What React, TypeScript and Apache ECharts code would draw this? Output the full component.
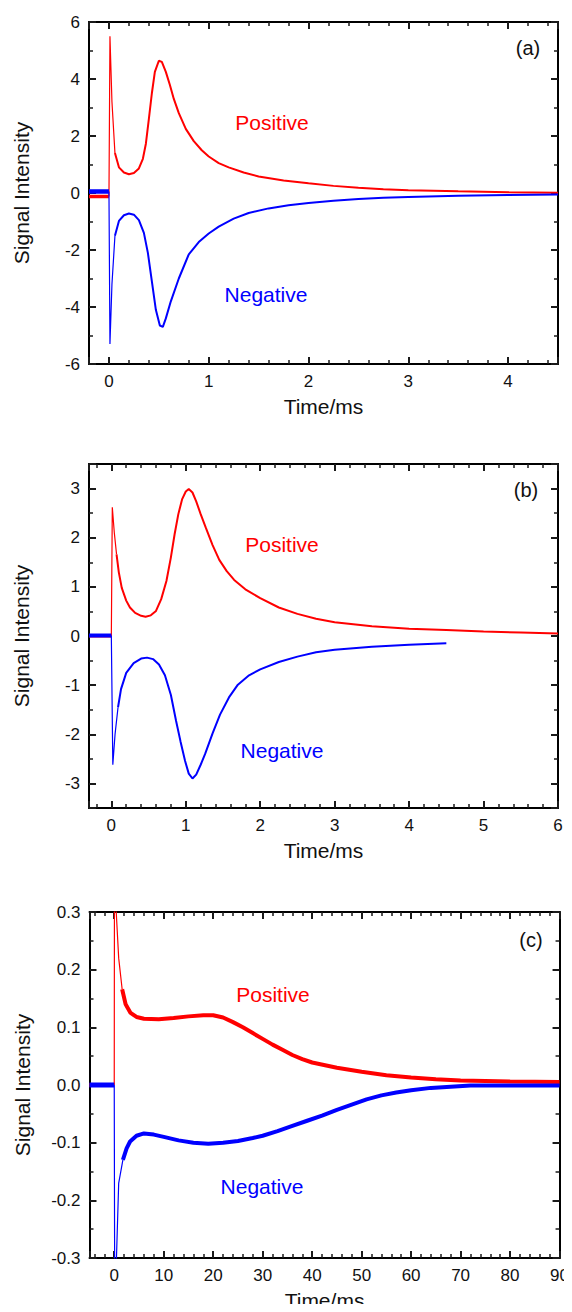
import React, { useEffect, useRef } from "react";
import * as echarts from "echarts";

// ---------- data (time in ms, signal intensity) ----------
// Panel (a)
const redAPre: number[][] = [[-0.2, -0.12], [-0.1, -0.12], [0.0, -0.12]];
const redA: number[][] = [
  [0.01, 5.5], [0.03, 3.2], [0.06, 1.4], [0.1, 0.9], [0.15, 0.72], [0.2, 0.66], [0.25, 0.7],
  [0.3, 0.86], [0.34, 1.2], [0.37, 1.73], [0.4, 2.6], [0.43, 3.5], [0.46, 4.25], [0.5, 4.64],
  [0.53, 4.6], [0.57, 4.25], [0.61, 3.8], [0.65, 3.3], [0.7, 2.8], [0.77, 2.25], [0.85, 1.82],
  [0.93, 1.5], [1.0, 1.28], [1.1, 1.05], [1.2, 0.9], [1.35, 0.72], [1.5, 0.58], [1.75, 0.44],
  [2.0, 0.34], [2.25, 0.25], [2.5, 0.18], [2.75, 0.13], [3.0, 0.1], [3.5, 0.06], [4.0, 0.03], [4.5, 0.01],
];
const blueAPre: number[][] = [[-0.2, 0.05], [-0.1, 0.05], [0.0, 0.05]];
const blueA: number[][] = [
  [0.01, -5.3], [0.03, -3.2], [0.06, -1.5], [0.1, -0.98], [0.15, -0.78], [0.2, -0.72], [0.25, -0.76],
  [0.3, -0.95], [0.35, -1.4], [0.39, -2.1], [0.43, -3.1], [0.47, -4.1], [0.51, -4.65], [0.54, -4.7],
  [0.57, -4.4], [0.62, -3.8], [0.7, -3.0], [0.8, -2.15], [0.9, -1.72], [1.0, -1.42], [1.1, -1.18],
  [1.25, -0.9], [1.4, -0.7], [1.6, -0.54], [1.8, -0.43], [2.0, -0.35], [2.25, -0.27], [2.5, -0.21],
  [2.75, -0.17], [3.0, -0.14], [3.5, -0.1], [4.0, -0.07], [4.5, -0.05],
];

// Panel (b)
const redBPre: number[][] = [[-0.3, 0.0], [0.0, 0.0]];
const redB: number[][] = [
  [0.013, 2.62], [0.04, 2.1], [0.07, 1.66], [0.1, 1.3], [0.14, 0.98], [0.2, 0.72], [0.25, 0.58],
  [0.32, 0.47], [0.4, 0.41], [0.46, 0.39], [0.53, 0.42], [0.6, 0.51], [0.67, 0.75], [0.74, 1.12],
  [0.8, 1.6], [0.85, 2.07], [0.9, 2.48], [0.95, 2.78], [1.0, 2.94], [1.04, 2.99], [1.09, 2.92],
  [1.14, 2.74], [1.2, 2.48], [1.27, 2.2], [1.36, 1.85], [1.45, 1.55], [1.55, 1.32], [1.65, 1.14],
  [1.8, 0.95], [2.0, 0.77], [2.25, 0.58], [2.5, 0.45], [2.75, 0.35], [3.0, 0.28], [3.5, 0.2],
  [4.0, 0.15], [4.5, 0.12], [5.0, 0.09], [5.5, 0.07], [6.0, 0.05],
];
const blueBPre: number[][] = [[-0.3, 0.01], [0.0, 0.01]];
const blueB: number[][] = [
  [0.02, -2.62], [0.05, -2.0], [0.09, -1.45], [0.13, -1.08], [0.2, -0.75], [0.3, -0.55], [0.4, -0.46],
  [0.48, -0.44], [0.56, -0.47], [0.64, -0.58], [0.72, -0.8], [0.8, -1.2], [0.87, -1.73], [0.93, -2.15],
  [0.99, -2.54], [1.04, -2.8], [1.09, -2.9], [1.14, -2.82], [1.2, -2.62], [1.26, -2.4], [1.36, -1.98],
  [1.46, -1.6], [1.58, -1.25], [1.7, -0.99], [1.85, -0.8], [2.0, -0.68], [2.25, -0.53], [2.5, -0.42],
  [2.75, -0.33], [3.0, -0.28], [3.5, -0.22], [4.0, -0.18], [4.5, -0.15],
];

// Panel (c)
const redCPre: number[][] = [[-5, 0.0], [0, 0.0]];
const redC: number[][] = [
  [0.1, 0.8], [0.4, 0.3], [0.9, 0.22], [1.6, 0.166], [2.3, 0.14], [3.3, 0.125], [4.5, 0.118],
  [6, 0.115], [9, 0.114], [12, 0.116], [15, 0.119], [18, 0.121], [20, 0.121], [22, 0.117],
  [24, 0.109], [26, 0.1], [28, 0.09], [30, 0.08], [32, 0.07], [34, 0.061], [36, 0.052], [38, 0.045],
  [40, 0.039], [45, 0.03], [50, 0.023], [55, 0.017], [60, 0.013], [65, 0.01], [70, 0.008],
  [80, 0.006], [90, 0.005],
];
const blueCPre: number[][] = [[-5, 0.0], [0, 0.0]];
const blueC: number[][] = [
  [0.2, -0.8], [0.45, -0.3], [0.9, -0.17], [1.75, -0.13], [2.5, -0.11], [3.2, -0.098], [4.5, -0.088],
  [6, -0.084], [8, -0.086], [10, -0.09], [13, -0.096], [16, -0.1], [19, -0.102], [22, -0.1],
  [25, -0.097], [28, -0.092], [30, -0.088], [33, -0.08], [36, -0.071], [39, -0.062], [42, -0.053],
  [45, -0.043], [48, -0.034], [51, -0.025], [54, -0.018], [57, -0.013], [60, -0.009], [64, -0.005],
  [68, -0.003], [72, -0.001], [80, -0.001], [90, -0.001],
];

// Tick labels
const xTicksA = [0, 1, 2, 3, 4];
const yTicksA = [-6, -4, -2, 0, 2, 4, 6];
const xTicksB = [0, 1, 2, 3, 4, 5, 6];
const yTicksB = [-3, -2, -1, 0, 1, 2, 3];
const xTicksC = [0, 10, 20, 30, 40, 50, 60, 70, 80, 90];
const yTicksC = [-0.3, -0.2, -0.1, 0.0, 0.1, 0.2, 0.3];

const panelTags = ["(a)", "(b)", "(c)"];
const posLabel = "Positive";
const negLabel = "Negative";
const xName = "Time/ms";
const yName = "Signal Intensity";

const FONT = '"Liberation Sans", Arial, Helvetica, sans-serif';
const RED = "#ff0000";
const BLUE = "#0000ff";
const TICK = "#1a1a1a";

export default function App() {
  const ref = useRef<HTMLDivElement>(null);

  useEffect(() => {
    if (!ref.current) return;
    const chart = echarts.init(ref.current, null, { renderer: "svg" });

    const panels = [
      {
        grid: { left: 89, top: 22, width: 469, height: 342 },
        xr: [-0.2, 4.5], yr: [-6, 6], xMaj: xTicksA, yMaj: yTicksA,
        xStep: 1, yStep: 2, xSplit: 5, ySplit: 2, dec: 0,
        curves: [
          { pre: redAPre, body: redA, k: 3, color: RED, w: 2, pw: 3.5 },
          { pre: blueAPre, body: blueA, k: 3, color: BLUE, w: 2, pw: 4.5 },
        ],
        tag: { x: 528, y: 48 }, pos: { x: 272, y: 122 }, neg: { x: 266, y: 294 },
      },
      {
        grid: { left: 89, top: 464, width: 469, height: 344 },
        xr: [-0.3, 6], yr: [-3.5, 3.5], xMaj: xTicksB, yMaj: yTicksB,
        xStep: 1, yStep: 1, xSplit: 5, ySplit: 2, dec: 0,
        curves: [
          { pre: redBPre, body: redB, k: 3, color: RED, w: 2, pw: 3 },
          { pre: blueBPre, body: blueB, k: 3, color: BLUE, w: 2, pw: 4 },
        ],
        tag: { x: 526, y: 490 }, pos: { x: 282, y: 544 }, neg: { x: 282, y: 750 },
      },
      {
        grid: { left: 89.5, top: 912, width: 473, height: 346 },
        xr: [-5, 90], yr: [-0.3, 0.3], xMaj: xTicksC, yMaj: yTicksC,
        xStep: 10, yStep: 0.1, xSplit: 5, ySplit: 2, dec: 1,
        curves: [
          { pre: redCPre, body: redC, k: 4, color: RED, w: 4, pw: 4 },
          { pre: blueCPre, body: blueC, k: 4, color: BLUE, w: 4, pw: 5 },
        ],
        tag: { x: 531, y: 940 }, pos: { x: 273, y: 994 }, neg: { x: 262, y: 1186 },
      },
    ];

    const grids: any[] = [];
    const xAxes: any[] = [];
    const yAxes: any[] = [];
    const series: any[] = [];
    const graphics: any[] = [];

    const fmtFrom = (ticks: number[], dec: number) => (v: number) => {
      const hit = ticks.some((t) => Math.abs(t - v) < 1e-9);
      return hit ? (dec > 0 ? v.toFixed(dec) : String(Math.round(v))) : "";
    };

    panels.forEach((p, gi) => {
      grids.push({ left: p.grid.left, top: p.grid.top, width: p.grid.width, height: p.grid.height });
      const xBase = xAxes.length;
      const yBase = yAxes.length;
      const tick = { show: true, inside: true, length: 7, lineStyle: { color: TICK, width: 2 } };
      const minor = (split: number) => ({ show: true, splitNumber: split, length: 4, lineStyle: { color: TICK, width: 1.5 } });
      const line = { show: true, onZero: false, lineStyle: { color: "#000", width: 2 } };
      const mkX = (position: string, labels: boolean) => ({
        type: "value", gridIndex: gi, position, min: p.xr[0], max: p.xr[1],
        minInterval: p.xStep, maxInterval: p.xStep,
        splitLine: { show: false }, axisLine: line, axisTick: tick, minorTick: minor(p.xSplit),
        axisLabel: labels
          ? { show: true, margin: 9, fontFamily: FONT, fontSize: 17, color: "#111", formatter: fmtFrom(p.xMaj, 0) }
          : { show: false },
        ...(labels ? { name: xName, nameLocation: "middle", nameGap: 32, nameTextStyle: { fontFamily: FONT, fontSize: 21, color: "#111" } } : {}),
      });
      const mkY = (position: string, labels: boolean) => ({
        type: "value", gridIndex: gi, position, min: p.yr[0], max: p.yr[1],
        minInterval: p.yStep, maxInterval: p.yStep,
        splitLine: { show: false }, axisLine: line, axisTick: tick, minorTick: minor(p.ySplit),
        axisLabel: labels
          ? { show: true, margin: 9, fontFamily: FONT, fontSize: 17, color: "#111", formatter: fmtFrom(p.yMaj, p.dec) }
          : { show: false },
        ...(labels
          ? { name: yName, nameLocation: "middle", nameGap: 57, nameRotate: 90, nameTextStyle: { fontFamily: FONT, fontSize: 21, color: "#111" } }
          : {}),
      });
      xAxes.push(mkX("bottom", true), mkX("top", false));
      yAxes.push(mkY("left", true), mkY("right", false));

      p.curves.forEach((c) => {
        const base = { type: "line", xAxisIndex: xBase, yAxisIndex: yBase, showSymbol: false };
        series.push({ ...base, data: c.pre, lineStyle: { color: c.color, width: c.pw } });
        series.push({
          ...base,
          data: [c.pre[c.pre.length - 1], ...c.body.slice(0, c.k)],
          lineStyle: { color: c.color, width: 1.2 },
        });
        series.push({ ...base, data: c.body.slice(c.k - 1), lineStyle: { color: c.color, width: c.w } });
      });

      graphics.push(
        { type: "text", x: p.tag.x, y: p.tag.y, style: { text: panelTags[gi], fill: "#111", font: `20px ${FONT}`, textAlign: "center", textVerticalAlign: "middle" } },
        { type: "text", x: p.pos.x, y: p.pos.y, style: { text: posLabel, fill: RED, font: `21px ${FONT}`, textAlign: "center", textVerticalAlign: "middle" } },
        { type: "text", x: p.neg.x, y: p.neg.y, style: { text: negLabel, fill: BLUE, font: `21px ${FONT}`, textAlign: "center", textVerticalAlign: "middle" } },
      );
    });

    chart.setOption({
      animation: false,
      grid: grids,
      xAxis: xAxes,
      yAxis: yAxes,
      series,
      graphic: graphics,
    });

    return () => chart.dispose();
  }, []);

  return <div ref={ref} style={{ width: 572, height: 1312, margin: -8 }} />;
}
